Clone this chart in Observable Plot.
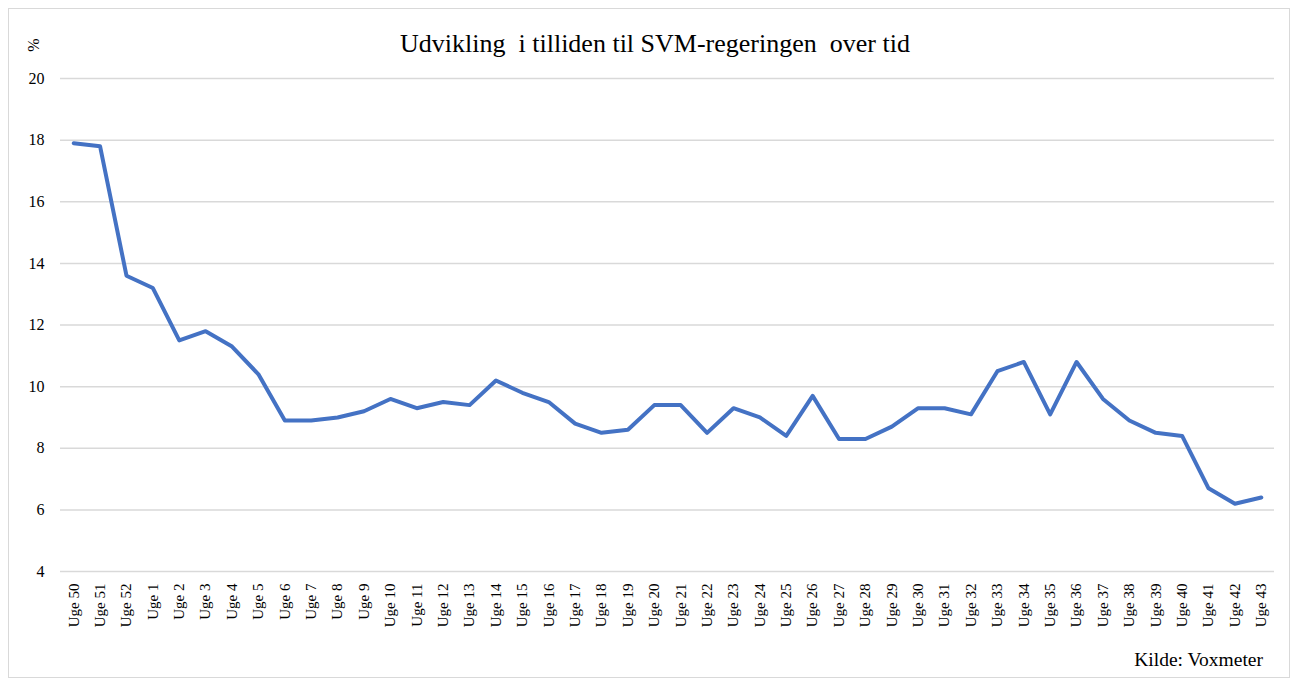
<!DOCTYPE html>
<html><head><meta charset="utf-8">
<script src="https://cdn.jsdelivr.net/npm/d3@7"></script>
<script src="https://cdn.jsdelivr.net/npm/@observablehq/plot@0.6"></script>
<style>
body{margin:0;background:#fff;font-family:"Liberation Serif","Times New Roman",serif;}
#wrap{position:relative;width:1298px;height:681px;overflow:hidden;}
#frame{position:absolute;left:8px;top:8px;width:1282px;height:670px;border:1px solid #d9d9d9;box-sizing:border-box;}
#title{position:absolute;left:0;width:1310px;top:31px;text-align:center;font-size:26px;line-height:1;white-space:pre;color:#000;}
#unit{position:absolute;left:34px;top:45px;font-size:16px;line-height:1;transform:translate(-50%,-50%) rotate(-90deg);color:#000;}
#caption{position:absolute;right:35px;top:650px;font-size:19.5px;line-height:1;color:#000;}
#chart{position:absolute;left:0;top:0;}
#chart svg, #chart svg text{font-family:"Liberation Serif","Times New Roman",serif !important;}
#chart g[aria-label="y-axis tick label"]{font-size:16px !important;}
#chart g[aria-label="x-axis tick label"]{font-size:15px !important;}
</style></head>
<body>
<div id="wrap">
  <div id="frame"></div>
  <div id="chart"></div>
  <div id="title">Udvikling  i tilliden til SVM-regeringen  over tid</div>
  <div id="unit">%</div>
  <div id="caption">Kilde: Voxmeter</div>
</div>
<script>
const weeks = ["Uge 50","Uge 51","Uge 52","Uge 1","Uge 2","Uge 3","Uge 4","Uge 5","Uge 6","Uge 7","Uge 8","Uge 9","Uge 10","Uge 11","Uge 12","Uge 13","Uge 14","Uge 15","Uge 16","Uge 17","Uge 18","Uge 19","Uge 20","Uge 21","Uge 22","Uge 23","Uge 24","Uge 25","Uge 26","Uge 27","Uge 28","Uge 29","Uge 30","Uge 31","Uge 32","Uge 33","Uge 34","Uge 35","Uge 36","Uge 37","Uge 38","Uge 39","Uge 40","Uge 41","Uge 42","Uge 43"];
const values = [17.9,17.8,13.6,13.2,11.5,11.8,11.3,10.4,8.9,8.9,9.0,9.2,9.6,9.3,9.5,9.4,10.2,9.8,9.5,8.8,8.5,8.6,9.4,9.4,8.5,9.3,9.0,8.4,9.7,8.3,8.3,8.7,9.3,9.3,9.1,10.5,10.8,9.1,10.8,9.6,8.9,8.5,8.4,6.7,6.2,6.4];
const yTicks = [4,6,8,10,12,14,16,18,20];

const data = weeks.map((w, i) => ({week: w, value: values[i]}));
const serif = "Liberation Serif, Times New Roman, serif";

const chart = Plot.plot({
  width: 1298,
  height: 681,
  marginTop: 78,
  marginBottom: 110,
  marginLeft: 60,
  marginRight: 24,
  style: {fontFamily: serif, background: "transparent", color: "#000"},
  x: {type: "point", domain: weeks, padding: 0.5, round: false, label: null},
  y: {domain: [4, 20], label: null},
  marks: [
    Plot.gridY({ticks: yTicks, stroke: "#d9d9d9", strokeOpacity: 1, strokeWidth: 1.5}),
    Plot.axisY({ticks: yTicks, tickSize: 0, tickPadding: 16, fontSize: 16, fontFamily: serif, fill: "#000", label: null}),
    Plot.axisX({tickSize: 0, tickRotate: -90, tickPadding: 12, fontSize: 15, fontFamily: serif, fill: "#000", label: null}),
    Plot.line(data, {x: "week", y: "value", stroke: "#4472C4", strokeWidth: 4, strokeLinejoin: "round", strokeLinecap: "round"})
  ]
});
document.getElementById("chart").appendChild(chart);
</script>
</body></html>
